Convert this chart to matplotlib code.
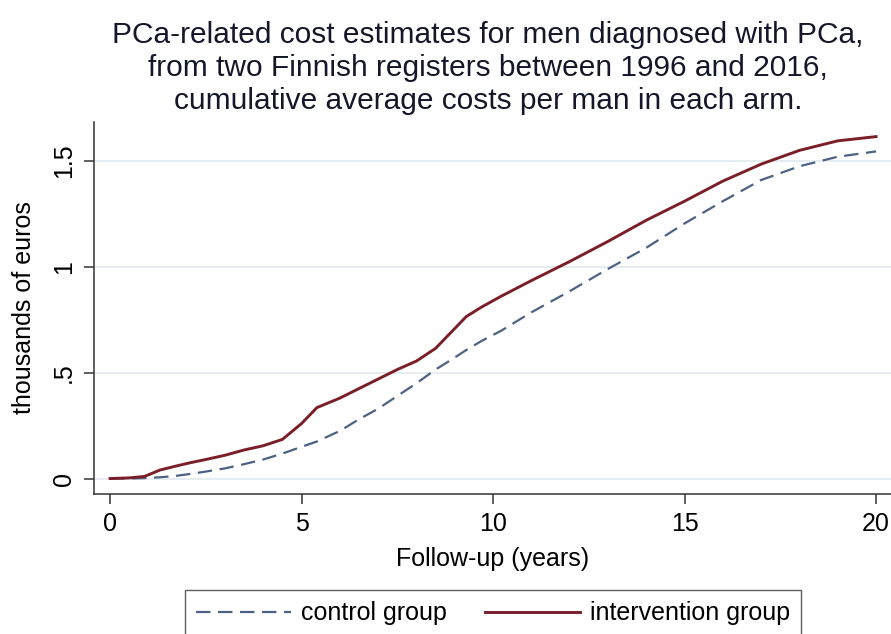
import numpy as np
import matplotlib
matplotlib.use('Agg')
from matplotlib import pyplot as plt
from matplotlib.lines import Line2D

plt.rcParams['font.family'] = ['Liberation Sans', 'DejaVu Sans']

# follow-up time (years)
years = [0, 0.5, 0.9, 1.3, 1.7, 2.1, 2.5, 3.0, 3.5, 4.0, 4.5, 5.0, 5.4, 6.0,
         6.5, 7.0, 7.5, 8.0, 8.5, 8.9, 9.3, 9.7, 10.2, 11, 12, 13, 14, 15,
         16, 17, 18, 19, 20]
# cumulative average cost per man, thousands of euros
intervention = [0, 0.003, 0.01, 0.04, 0.058, 0.075, 0.09, 0.11, 0.135, 0.155,
                0.185, 0.26, 0.335, 0.38, 0.425, 0.47, 0.515, 0.555, 0.615,
                0.69, 0.765, 0.81, 0.86, 0.935, 1.025, 1.12, 1.22, 1.31,
                1.405, 1.485, 1.55, 1.595, 1.615]
control = [0, 0, 0.002, 0.006, 0.012, 0.022, 0.033, 0.048, 0.068, 0.09,
           0.118, 0.15, 0.175, 0.225, 0.28, 0.33, 0.39, 0.45, 0.515, 0.56,
           0.607, 0.65, 0.697, 0.785, 0.885, 0.99, 1.09, 1.205, 1.31, 1.41,
           1.475, 1.52, 1.545]

yticks = [0, 0.5, 1, 1.5]
ytick_labels = ['0', '.5', '1', '1.5']
xticks = [0, 5, 10, 15, 20]

c_ctrl = '#4d6283'
c_int = '#7a1f28'
dash = (6.5, 3.4)

fig = plt.figure(figsize=(8.91, 6.34), dpi=100)
ax = fig.add_axes([94 / 891, 1 - 494 / 634, 1 - 94 / 891, (494 - 122) / 634])

ax.plot(years, control, color=c_ctrl, lw=1.6, dashes=dash)
ax.plot(years, intervention, color=c_int, lw=2.1)

ax.set_xlim(-0.42, 20.39)
ax.set_ylim(-0.073, 1.684)
ax.set_xticks(xticks)
ax.set_xticklabels([str(v) for v in xticks])
ax.set_yticks(yticks)
ax.set_yticklabels(ytick_labels, rotation=90, va='center')
for y in yticks:
    ax.axhline(y, color='#e6ecf0', lw=1.4, zorder=0)

for s in ['top', 'right']:
    ax.spines[s].set_visible(False)
for s in ['left', 'bottom']:
    ax.spines[s].set_color('#333333')
    ax.spines[s].set_linewidth(1.1)
ax.tick_params(labelsize=18, length=7, width=1.1, color='#333333', pad=6)

ax.set_xlabel('Follow-up (years)', fontsize=18, labelpad=8)
ax.set_ylabel('thousands of euros', fontsize=18)
ax.yaxis.set_label_coords(-58 / 797, 0.5)

fig.text(488 / 891, 1 - 21 / 634,
         'PCa-related cost estimates for men diagnosed with PCa,\n'
         'from two Finnish registers between 1996 and 2016,\n'
         'cumulative average costs per man in each arm.',
         ha='center', va='top', fontsize=21.5, color='#15162a',
         linespacing=1.22)

handles = [Line2D([], [], color=c_ctrl, lw=1.6, dashes=dash),
           Line2D([], [], color=c_int, lw=2.1)]
leg = fig.legend(handles, ['control group', 'intervention group'], ncol=2,
                 loc='upper center', bbox_to_anchor=(493 / 891, 1 - 590 / 634),
                 fontsize=18, frameon=True, fancybox=False, handlelength=3.8,
                 handletextpad=0.4, columnspacing=1.5, borderpad=0.45,
                 borderaxespad=0)
leg.get_frame().set_edgecolor('#333333')
leg.get_frame().set_linewidth(1.0)

fig.savefig('out.png', dpi=100)
